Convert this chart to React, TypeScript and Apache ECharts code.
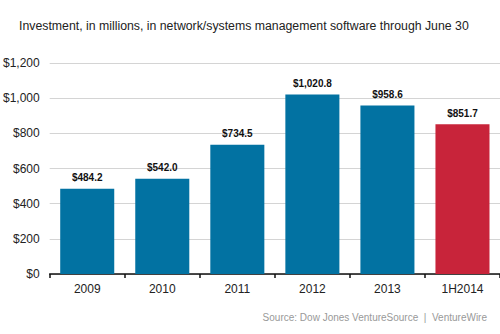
import React, { useEffect, useRef } from "react";
import * as echarts from "echarts";

const categories = ["2009", "2010", "2011", "2012", "2013", "1H2014"];
const values = [484.2, 542.0, 734.5, 1020.8, 958.6, 851.7];
const barColors = ["#0272a2", "#0272a2", "#0272a2", "#0272a2", "#0272a2", "#c8243a"];
const titleText = "Investment, in millions, in network/systems management software through June 30";
const sourceText = "Source: Dow Jones VentureSource  |  VentureWire";

export default function App() {
  const ref = useRef<HTMLDivElement>(null);
  useEffect(() => {
    const chart = echarts.init(ref.current!, null, { renderer: "svg" });
    chart.setOption({
      animation: false,
      textStyle: { fontFamily: "Liberation Sans, Arial, sans-serif" },
      title: {
        text: titleText,
        left: 14,
        top: 15,
        textStyle: { fontSize: 12.3, fontWeight: "normal", color: "#222" },
      },
      graphic: [
        {
          type: "text",
          right: 13,
          top: 312,
          style: { text: sourceText, fill: "#999", fontSize: 10, fontFamily: "Liberation Sans, Arial, sans-serif" },
        },
      ],
      grid: { left: 47, right: 0, top: 63, bottom: 60, containLabel: false },
      xAxis: {
        type: "category",
        data: categories,
        axisLine: { lineStyle: { color: "#111", width: 1.5 } },
        axisTick: { show: true, length: 4, lineStyle: { color: "#111", width: 1.5 } },
        axisLabel: { color: "#222", fontSize: 12, margin: 9 },
      },
      yAxis: {
        type: "value",
        min: 0,
        max: 1200,
        interval: 200,
        axisLine: { show: false },
        axisTick: { show: false },
        splitLine: { lineStyle: { color: "#d4d4d4", width: 1 } },
        axisLabel: {
          color: "#222",
          fontSize: 12,
          margin: 10,
          formatter: (v: number) => "$" + v.toLocaleString("en-US"),
        },
      },
      series: [
        {
          type: "bar",
          data: values.map((v, i) => ({ value: v, itemStyle: { color: barColors[i] } })),
          barCategoryGap: "28%",
          label: {
            show: true,
            position: "top",
            distance: 6,
            fontSize: 10,
            fontWeight: "bold",
            color: "#111",
            formatter: (p: any) =>
              "$" + p.value.toLocaleString("en-US", { minimumFractionDigits: 1, maximumFractionDigits: 1 }),
          },
        },
      ],
    });
    return () => chart.dispose();
  }, []);
  return <div ref={ref} style={{ width: 500, height: 334, position: "absolute", left: 0, top: 0, background: "#fff" }} />;
}
